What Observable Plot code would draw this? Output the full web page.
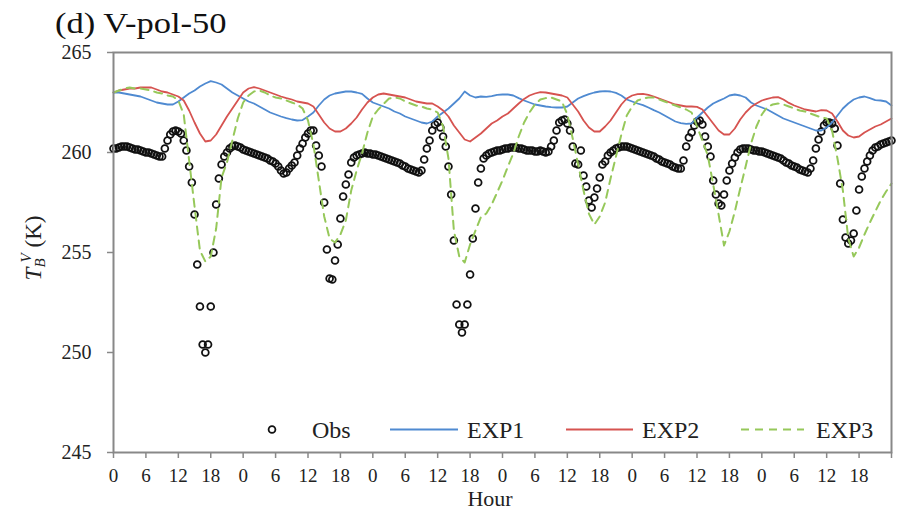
<!DOCTYPE html>
<html>
<head>
<meta charset="utf-8">
<script src="https://cdn.jsdelivr.net/npm/d3@7"></script>
<script src="https://cdn.jsdelivr.net/npm/@observablehq/plot@0.6"></script>
<style>
  html, body { margin: 0; padding: 0; background: #fff; }
  #title { height: 40px; padding-left: 55px; font-family: "Liberation Serif", "DejaVu Serif", serif; font-size: 30px; line-height: 46px; color: #111; white-space: nowrap; overflow: visible; }
  #title span { display: inline-block; transform: scaleX(1.15); transform-origin: 0 0; }
  #chart svg { display: block; }
</style>
</head>
<body>
<div id="title"><span>(d) V-pol-50</span></div>
<div id="chart"></div>
<script>
// ---- Data ----
// Observations every half hour, hour 0 .. 144
const obsStep = 0.5;
const obsTb = [
  260.2,260.2,260.25,260.3,260.3,260.3,260.25,260.2,260.15,260.15,260.1,260.05,260.0,260.0,259.95,259.9,259.85,259.8,259.8,260.2,260.6,260.9,261.05,261.1,
  261.05,260.95,260.6,260.1,259.3,258.5,256.9,254.4,252.3,250.4,250.0,250.4,252.3,255.0,257.4,258.7,259.4,259.8,260.0,260.2,260.3,260.35,260.3,260.25,
  260.15,260.1,260.05,260.0,259.95,259.9,259.85,259.8,259.75,259.7,259.6,259.55,259.45,259.3,259.1,258.95,259.0,259.2,259.35,259.5,259.85,260.2,260.45,260.75,
  260.95,261.1,261.1,260.35,259.85,259.3,257.5,255.15,253.7,253.65,254.6,255.4,256.7,257.8,258.4,258.9,259.5,259.75,259.85,259.9,259.95,260.0,259.95,259.95,
  259.9,259.9,259.85,259.8,259.75,259.7,259.65,259.6,259.55,259.5,259.45,259.35,259.3,259.2,259.15,259.1,259.05,259.0,259.1,259.65,260.2,260.6,261.1,261.4,
  261.5,261.25,260.8,260.3,259.3,257.9,255.6,252.4,251.4,251.0,251.4,252.4,253.9,255.7,257.2,258.5,259.2,259.7,259.85,259.95,260.0,260.05,260.1,260.1,
  260.15,260.2,260.2,260.25,260.25,260.25,260.2,260.2,260.15,260.1,260.1,260.1,260.05,260.05,260.1,260.05,260.0,260.05,260.3,260.6,261.1,261.5,261.6,261.65,
  261.45,261.1,260.3,259.45,259.4,260.1,258.85,258.3,257.6,257.25,257.75,258.2,258.75,259.4,259.55,259.85,260.0,260.1,260.2,260.25,260.3,260.3,260.3,260.25,
  260.2,260.15,260.1,260.05,260.0,259.95,259.9,259.85,259.8,259.7,259.65,259.55,259.5,259.45,259.4,259.3,259.25,259.2,259.2,259.6,260.3,260.75,261.0,261.35,
  261.55,261.6,261.4,260.8,260.3,259.8,258.6,257.9,257.45,257.35,257.9,258.6,259.1,259.45,259.75,260.0,260.15,260.2,260.2,260.2,260.15,260.1,260.1,260.05,
  260.05,260.0,259.95,259.9,259.85,259.8,259.75,259.7,259.6,259.5,259.45,259.35,259.3,259.25,259.15,259.1,259.05,259.0,259.2,259.6,260.2,260.65,261.05,261.35,
  261.5,261.5,261.45,261.2,260.35,258.45,256.65,255.75,255.45,255.6,255.95,257.1,258.15,258.8,259.2,259.55,259.85,260.1,260.25,260.3,260.4,260.45,260.5,260.55,
  260.6
];
// Model experiments, hourly, hour 0 .. 144
const exp1Tb = [
  263.0,263.0,262.95,262.9,262.85,262.8,262.7,262.6,262.5,262.45,262.4,262.4,262.55,262.75,262.95,263.1,263.3,263.45,263.57,263.5,263.4,263.2,263.0,262.85,
  262.7,262.55,262.45,262.3,262.15,262.0,261.9,261.8,261.72,261.65,261.6,261.62,261.8,262.0,262.35,262.65,262.85,262.95,263.0,263.05,263.05,263.0,262.93,262.7,
  262.5,262.4,262.3,262.2,262.05,261.95,261.8,261.7,261.6,261.5,261.45,261.55,261.8,262.0,262.2,262.45,262.7,263.05,262.85,262.75,262.8,262.78,262.82,262.88,
  262.9,262.9,262.85,262.72,262.6,262.5,262.4,262.35,262.3,262.27,262.25,262.25,262.3,262.5,262.7,262.82,262.92,263.0,263.05,263.07,263.05,262.98,262.85,262.65,
  262.55,262.45,262.37,262.25,262.12,262.0,261.85,261.7,261.55,261.47,261.43,261.45,261.75,262.0,262.25,262.45,262.58,262.7,262.85,262.9,262.85,262.75,262.5,262.35,
  262.25,262.15,262.0,261.85,261.7,261.6,261.5,261.4,261.3,261.2,261.1,261.1,261.25,261.5,261.85,262.2,262.45,262.65,262.75,262.8,262.72,262.62,262.6,262.55,
  262.35
];
const exp2Tb = [
  263.0,263.1,263.15,263.2,263.2,263.25,263.25,263.25,263.15,263.05,263.0,262.9,262.8,262.6,262.1,261.5,260.95,260.55,260.6,260.9,261.35,261.8,262.2,262.6,
  263.0,263.2,263.27,263.2,263.1,263.0,262.9,262.8,262.72,262.65,262.55,262.5,262.45,262.3,261.9,261.5,261.2,261.05,261.05,261.2,261.45,261.75,262.15,262.5,
  262.75,262.9,262.95,262.9,262.85,262.8,262.75,262.65,262.55,262.5,262.45,262.45,262.3,262.1,261.8,261.35,261.0,260.65,260.55,260.75,260.95,261.2,261.45,261.6,
  261.8,261.95,262.2,262.45,262.68,262.85,262.95,263.02,263.0,262.95,262.9,262.85,262.75,262.4,262.05,261.6,261.25,261.05,261.05,261.3,261.6,262.0,262.4,262.7,
  262.85,262.92,262.93,262.88,262.8,262.7,262.6,262.5,262.4,262.35,262.3,262.3,262.28,262.15,261.8,261.45,261.1,260.9,260.9,261.2,261.65,262.0,262.27,262.45,
  262.6,262.68,262.75,262.77,262.65,262.48,262.35,262.25,262.15,262.1,262.05,262.12,262.1,261.95,261.55,261.1,260.85,260.75,260.8,261.0,261.15,261.3,261.4,261.55,
  261.7
];
const exp3Tb = [
  263.0,263.1,263.2,263.25,263.2,263.2,263.15,263.1,263.0,262.95,262.85,262.8,262.6,261.9,259.6,257.3,255.1,254.55,254.8,256.2,258.75,259.5,260.6,261.7,
  262.5,262.85,263.05,263.1,263.0,262.85,262.75,262.7,262.6,262.5,262.4,262.2,261.6,260.4,258.6,256.8,255.7,255.5,255.9,256.6,258.1,259.1,259.95,261.0,
  261.8,262.15,262.43,262.7,262.75,262.7,262.55,262.45,262.35,262.3,262.2,262.15,262.0,261.3,259.7,256.1,254.8,254.5,255.4,256.1,256.77,256.95,257.4,258.0,
  258.6,259.3,259.95,260.8,261.5,262.0,262.4,262.65,262.72,262.75,262.65,262.55,261.9,260.7,259.4,258.1,256.93,256.4,256.8,257.5,258.7,259.8,260.9,261.85,
  262.3,262.6,262.7,262.75,262.75,262.65,262.55,262.45,262.35,262.25,262.15,262.0,261.3,260.6,259.85,258.4,256.9,255.35,256.05,257.05,258.2,259.3,260.45,261.3,
  261.9,262.27,262.4,262.45,262.4,262.3,262.2,262.1,262.05,261.95,261.85,261.75,261.7,261.1,259.7,258.1,255.7,254.8,255.25,255.9,256.5,257.05,257.6,258.05,
  258.45
];
const seriesNames = ["Obs", "EXP1", "EXP2", "EXP3"];
const xTicks = [0,6,12,18,24,30,36,42,48,54,60,66,72,78,84,90,96,102,108,114,120,126,132,138,144];
const xTickLabels = ["0","6","12","18","0","6","12","18","0","6","12","18","0","6","12","18","0","6","12","18","0","6","12","18",""];
const yTicks = [245, 250, 255, 260, 265];
const xDomain = [0, 144];
const yDomain = [245, 265];

// ---- Styles ----
const colors = { EXP1: "#4F8AD1", EXP2: "#D65350", EXP3: "#96C85A" };
const serif = "'Liberation Serif', 'DejaVu Serif', serif";

// ---- Tables built from the arrays ----
const obs = obsTb.map((tb, i) => ({ hour: i * obsStep, tb }));
const expRows = [];
[["EXP1", exp1Tb], ["EXP2", exp2Tb], ["EXP3", exp3Tb]].forEach(([name, arr]) => {
  arr.forEach((tb, i) => expRows.push({ series: name, hour: i, tb }));
});

const svg = Plot.plot({
  width: 899,
  height: 471,
  marginLeft: 113,
  marginRight: 8,
  marginTop: 12,
  marginBottom: 59,
  style: { fontFamily: serif, fontSize: "20px", color: "#222", background: "#fff", overflow: "visible" },
  x: { domain: xDomain },
  y: { domain: yDomain },
  marks: [
    Plot.axisX({ ticks: xTicks, tickFormat: d => xTickLabels[xTicks.indexOf(d)], tickSize: 6, tickPadding: 10, stroke: "#888", strokeWidth: 1.5, label: null, fontFamily: serif, fontSize: 19 }),
    Plot.axisY({ ticks: yTicks, tickSize: 6, tickPadding: 16, stroke: "#888", strokeWidth: 1.5, label: null, fontFamily: serif, fontSize: 20 }),
    Plot.dot(obs, { x: "hour", y: "tb", r: 3.4, stroke: "#111", strokeWidth: 1.8, fill: "none" }),
    Plot.line(expRows.filter(d => d.series === "EXP1"), { x: "hour", y: "tb", stroke: colors.EXP1, strokeWidth: 1.8 }),
    Plot.line(expRows.filter(d => d.series === "EXP2"), { x: "hour", y: "tb", stroke: colors.EXP2, strokeWidth: 1.8 }),
    Plot.line(expRows.filter(d => d.series === "EXP3"), { x: "hour", y: "tb", stroke: colors.EXP3, strokeWidth: 2, strokeDasharray: "8,6" }),
    Plot.frame({ stroke: "#888", strokeWidth: 2 })
  ]
});

document.getElementById("chart").appendChild(svg);

const s = d3.select(svg);

// y-axis label: T_B^V (K)
const yl = s.append("text")
  .attr("transform", "translate(41,208) rotate(-90)")
  .attr("text-anchor", "middle")
  .style("font-family", serif)
  .attr("font-size", 23)
  .attr("fill", "#222");
yl.append("tspan").attr("font-style", "italic").text("T");
yl.append("tspan").attr("font-style", "italic").attr("font-size", 15).attr("dy", 4).text("B");
yl.append("tspan").attr("font-style", "italic").attr("font-size", 15).attr("dx", -4).attr("dy", -14).text("V");
yl.append("tspan").attr("dy", 10).text("\u00a0(K)");

// x-axis label
s.append("text")
  .attr("x", 490).attr("y", 466)
  .attr("text-anchor", "middle")
  .style("font-family", serif)
  .attr("font-size", 22)
  .attr("fill", "#222")
  .text("Hour");

// legend inside the frame
const ly = 389.5;
const leg = s.append("g").style("font-family", serif).attr("font-size", 24).attr("fill", "#222").attr("text-anchor", "start");
leg.append("circle").attr("cx", 272).attr("cy", ly).attr("r", 3.4).attr("fill", "none").attr("stroke", "#111").attr("stroke-width", 1.8);
leg.append("text").attr("x", 312).attr("y", ly).attr("dy", "0.35em").text(seriesNames[0]);
leg.append("line").attr("x1", 390).attr("x2", 458).attr("y1", ly).attr("y2", ly).attr("stroke", colors.EXP1).attr("stroke-width", 1.8);
leg.append("text").attr("x", 467).attr("y", ly).attr("dy", "0.35em").text(seriesNames[1]);
leg.append("line").attr("x1", 566).attr("x2", 633).attr("y1", ly).attr("y2", ly).attr("stroke", colors.EXP2).attr("stroke-width", 1.8);
leg.append("text").attr("x", 642).attr("y", ly).attr("dy", "0.35em").text(seriesNames[2]);
leg.append("line").attr("x1", 741).attr("x2", 804).attr("y1", ly).attr("y2", ly).attr("stroke", colors.EXP3).attr("stroke-width", 2).attr("stroke-dasharray", "8,6");
leg.append("text").attr("x", 816).attr("y", ly).attr("dy", "0.35em").text(seriesNames[3]);
</script>
</body>
</html>
